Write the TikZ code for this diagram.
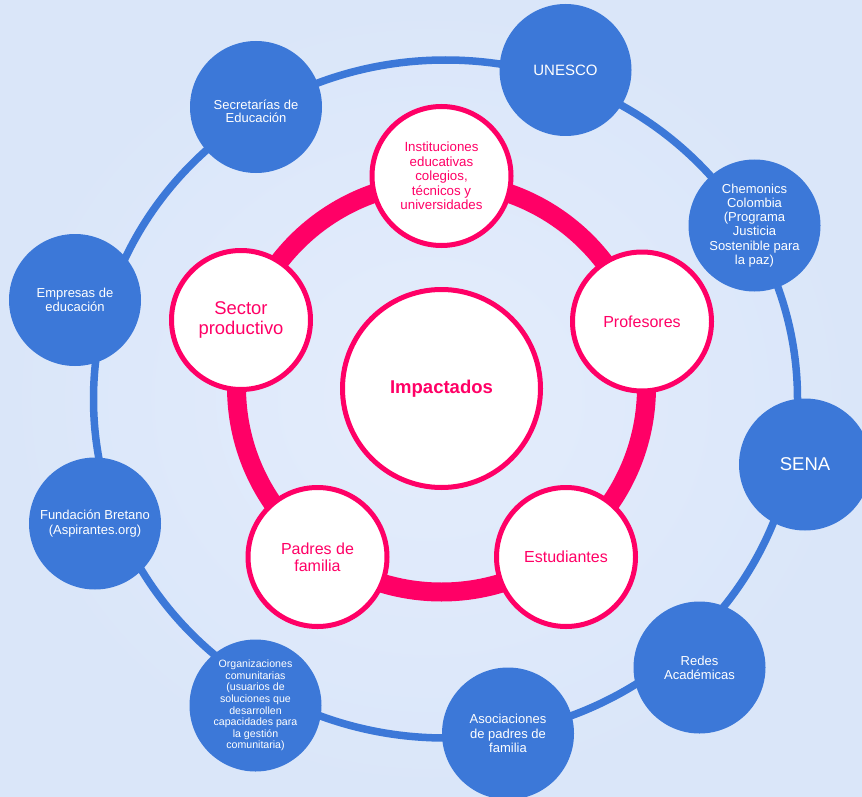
\documentclass[tikz,border=0pt]{standalone}
\usepackage{fontspec}
\setmainfont{Liberation Sans}
\definecolor{bgout}{HTML}{DAE6F9}
\definecolor{bgin}{HTML}{E4EDFC}
\definecolor{ringblue}{HTML}{3C78D8}
\definecolor{hotpink}{HTML}{FF0066}
\tikzset{
  bluenode/.style={circle, fill=ringblue, draw=none, minimum size=132pt, inner sep=0pt,
    text=white, align=center, font=\fontsize{13}{14.2}\selectfont},
  pinknode/.style={circle, fill=white, draw=hotpink, line width=5pt, minimum size=139pt, inner sep=0pt,
    text=hotpink, align=center, font=\fontsize{16}{17}\selectfont},
  corenode/.style={circle, fill=white, draw=hotpink, line width=5pt, minimum size=198pt, inner sep=0pt,
    text=hotpink, align=center, font=\fontsize{18.5}{20}\selectfont\bfseries},
}
\begin{document}
\begin{tikzpicture}[x=1pt,y=-1pt]
\useasboundingbox (0,0) rectangle (862,797);
\shade[inner color=bgin, outer color=bgout] (0,0) rectangle (862,797);
% outer blue ring
\coordinate (oc) at (445.5,399);
\draw[ringblue, line width=7.5pt] (oc) ellipse [x radius=352, y radius=339];
% inner pink ring
\coordinate (ic) at (441.5,387);
\draw[hotpink, line width=19pt] (ic) circle [radius=205];
% blue nodes
\node[bluenode] (secre) at (256,107) {\raisebox{-4.5pt}[\height][\depth]{\shortstack{Secretarías de\\Educación}}};
\node[bluenode, font=\fontsize{15}{16}\selectfont] (unesco) at (565.5,70) {UNESCO};
\node[bluenode] (chem) at (754.5,225.5) {Chemonics\\Colombia\\(Programa\\Justicia\\Sostenible para\\la paz)};
\node[bluenode, font=\fontsize{18.5}{20}\selectfont] (sena) at (805,464.5) {SENA};
\node[bluenode] (redes) at (699.5,667.5) {Redes\\Académicas};
\node[bluenode] (asoc) at (508,733.5) {Asociaciones\\de padres de\\familia};
\node[bluenode, font=\fontsize{10.6}{11.6}\selectfont] (orga) at (255.5,705.5) {Organizaciones\\comunitarias\\(usuarios de\\soluciones que\\desarrollen\\capacidades para\\la gestión\\comunitaria)};
\node[bluenode] (fund) at (95,523.5) {Fundación Bretano\\(Aspirantes.org)};
\node[bluenode] (empr) at (75,300) {Empresas de\\educación};
% pink nodes
\node[pinknode, font=\fontsize{13.3}{14.5}\selectfont] (inst) at (441.5,176) {Instituciones\\educativas\\colegios,\\técnicos y\\universidades};
\node[pinknode] (prof) at (642,321.5) {Profesores};
\node[pinknode] (estu) at (566,557) {Estudiantes};
\node[pinknode] (padr) at (317.5,557) {Padres de\\familia};
\node[pinknode, font=\fontsize{18.4}{20}\selectfont] (sect) at (241,320) {Sector\\productivo};
% core
\node[corenode] (core) at (441.5,388.5) {Impactados};
\end{tikzpicture}
\end{document}
